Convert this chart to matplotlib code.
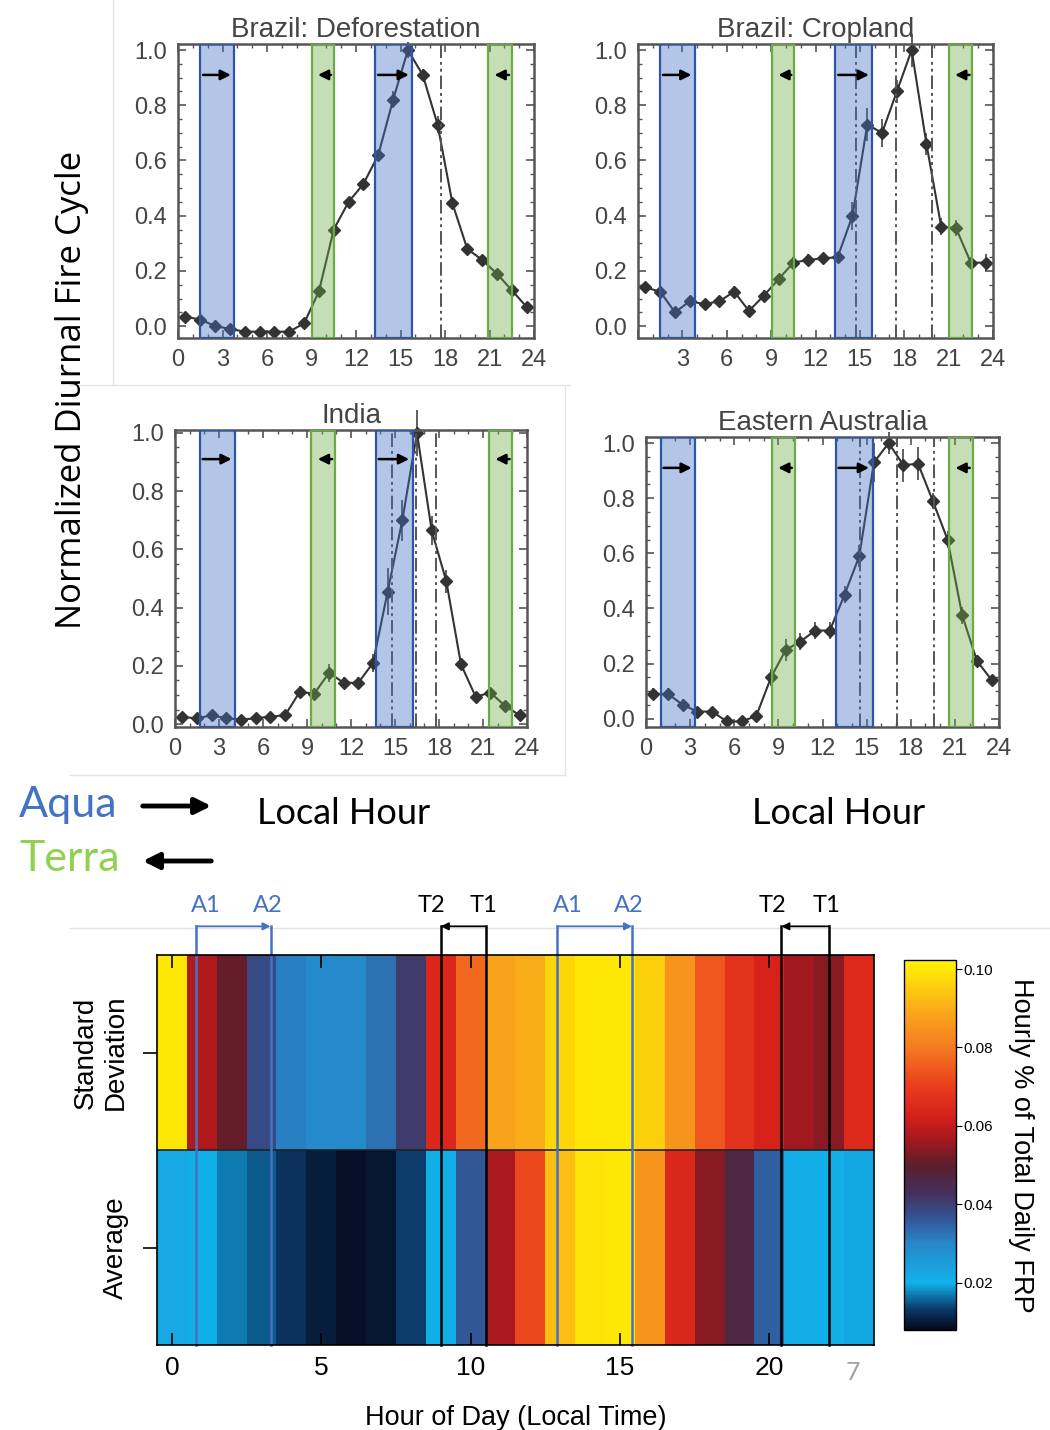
import numpy as np
import matplotlib.pyplot as plt
from matplotlib.colors import LinearSegmentedColormap, Normalize

W, H = 1050, 1430

def fx(px):
    return px / W

def fy(py):
    return 1 - py / H

# ---- diurnal cycle data (values at half hours) ----
hours = np.arange(0.5, 24, 1.0)

defor = [0.034, 0.024, 0.0, -0.01, -0.02, -0.02, -0.02, -0.02, 0.01, 0.126, 0.35, 0.45,
         0.515, 0.62, 0.82, 1.0, 0.91, 0.73, 0.445, 0.28, 0.24, 0.19, 0.13, 0.07]
defor_err = [0.01, 0.01, 0.01, 0.01, 0.01, 0.01, 0.01, 0.01, 0.01, 0.015, 0.015, 0.015,
             0.015, 0.015, 0.03, 0.03, 0.02, 0.03, 0.02, 0.015, 0.01, 0.01, 0.01, 0.01]
crop = [0.14, 0.125, 0.05, 0.09, 0.08, 0.09, 0.125, 0.055, 0.11, 0.17, 0.23, 0.24,
        0.245, 0.25, 0.40, 0.73, 0.70, 0.85, 1.0, 0.66, 0.36, 0.355, 0.23, 0.23]
crop_err = [0.02, 0.02, 0.02, 0.02, 0.02, 0.02, 0.02, 0.02, 0.02, 0.02, 0.02, 0.02,
            0.02, 0.02, 0.05, 0.06, 0.05, 0.04, 0.06, 0.04, 0.03, 0.03, 0.02, 0.03]
india = [0.024, 0.02, 0.03, 0.02, 0.015, 0.02, 0.026, 0.03, 0.11, 0.105, 0.176, 0.142,
         0.142, 0.21, 0.455, 0.70, 1.0, 0.665, 0.49, 0.205, 0.094, 0.108, 0.063, 0.03]
india_err = [0.01, 0.01, 0.01, 0.01, 0.01, 0.01, 0.01, 0.01, 0.02, 0.02, 0.03, 0.02,
             0.02, 0.03, 0.08, 0.07, 0.08, 0.05, 0.04, 0.02, 0.01, 0.01, 0.01, 0.01]
aus = [0.09, 0.09, 0.05, 0.026, 0.026, -0.01, -0.01, 0.01, 0.15, 0.25, 0.28, 0.32,
       0.32, 0.45, 0.59, 0.93, 1.0, 0.92, 0.925, 0.79, 0.65, 0.375, 0.21, 0.14]
aus_err = [0.02, 0.02, 0.02, 0.01, 0.01, 0.01, 0.01, 0.01, 0.03, 0.04, 0.03, 0.03,
           0.03, 0.03, 0.04, 0.07, 0.04, 0.06, 0.06, 0.03, 0.03, 0.03, 0.02, 0.02]

# overpass windows (hours) and marker lines
defor_aqua = [(1.5, 3.8), (13.3, 15.8)]
defor_terra = [(9.0, 10.5), (20.9, 22.5)]
crop_aqua = [(1.5, 3.85), (13.35, 15.85)]
crop_terra = [(9.05, 10.55), (21.0, 22.6)]
india_aqua = [(1.7, 4.1), (13.7, 16.2)]
india_terra = [(9.3, 10.9), (21.4, 23.0)]
aus_aqua = [(1.0, 3.35), (12.9, 15.4)]
aus_terra = [(8.55, 10.1), (20.6, 22.2)]

defor_vl = [15.8, 17.75]
crop_vl = [14.75, 17.45, 19.85]
india_vl = [14.8, 16.4, 17.8]
aus_vl = [14.55, 17.05, 19.55]

xtick_vals = [0, 3, 6, 9, 12, 15, 18, 21, 24]
ytick_vals = [0.0, 0.2, 0.4, 0.6, 0.8, 1.0]

# ---- heatmap data ----
sd_vals = [0.100, 0.058, 0.051, 0.038, 0.031, 0.029, 0.029, 0.033, 0.041, 0.064, 0.077, 0.088,
           0.090, 0.097, 0.100, 0.100, 0.096, 0.085, 0.074, 0.067, 0.063, 0.056, 0.054, 0.065]
avg_vals = [0.022, 0.020, 0.017, 0.015, 0.0125, 0.0105, 0.009, 0.0095, 0.0135, 0.020, 0.036, 0.057,
            0.072, 0.093, 0.099, 0.100, 0.085, 0.064, 0.054, 0.046, 0.035, 0.021, 0.020, 0.0195]
row_labels = ['Standard\nDeviation', 'Average']
aqua_lines = [0.8, 3.3, 12.9, 15.4]
terra_lines = [9.0, 10.5, 20.4, 22.0]
cb_ticks = [0.02, 0.04, 0.06, 0.08, 0.10]

plt.rcParams['font.family'] = ['Liberation Sans', 'DejaVu Sans']
fig = plt.figure(figsize=(10.5, 14.3), dpi=100)

BLUE_FC = (0x44 / 255, 0x72 / 255, 0xc4 / 255, 0.4)
GREEN_FC = (0x70 / 255, 0xad / 255, 0x47 / 255, 0.4)


def panel(rect, vals, errs, aqua, terra, vlines, title, ylim, show_zero=True):
    ax = fig.add_axes(rect)
    ax.errorbar(hours, vals, yerr=errs, fmt='-D', color='#333333', ms=6, lw=1.5,
                elinewidth=1.1, capsize=0, zorder=2, clip_on=False)
    for x in vlines:
        ax.axvline(x, color='#555555', lw=1.4, ls=(0, (7, 2, 1.5, 2, 1.5, 2)), zorder=2.5)
    for a, b in aqua:
        ax.axvspan(a, b, fc=BLUE_FC, ec='#2f55a5', lw=1.6, zorder=3)
        ax.annotate('', xy=(b - 0.05, 0.91), xytext=(a, 0.91),
                    arrowprops=dict(arrowstyle='-|>', color='black', lw=1.8, mutation_scale=15), zorder=4)
    for a, b in terra:
        ax.axvspan(a, b, fc=GREEN_FC, ec='#6aab45', lw=1.6, zorder=3)
        ax.annotate('', xy=(a + 0.25, 0.91), xytext=(b, 0.91),
                    arrowprops=dict(arrowstyle='-|>', color='black', lw=1.8, mutation_scale=15), zorder=4)
    ax.set_xlim(0, 24)
    ax.set_ylim(*ylim)
    ax.set_xticks(xtick_vals)
    labels = [str(v) for v in xtick_vals]
    if not show_zero:
        labels[0] = ''
    ax.set_xticklabels(labels)
    ax.set_yticks(ytick_vals)
    ax.set_yticklabels(['%.1f' % v for v in ytick_vals])
    ax.set_xticks(np.arange(0, 25, 1), minor=True)
    ax.set_yticks(np.arange(0, 1.01, 0.05), minor=True)
    ax.tick_params(which='both', direction='in', top=True, right=True, color='#555555')
    ax.tick_params(which='major', length=6, width=1.2, labelsize=17, labelcolor='#444444', pad=8)
    ax.tick_params(which='minor', length=3, width=1.0)
    for s in ax.spines.values():
        s.set_color('#555555')
        s.set_linewidth(1.8)
    ax.set_title(title, fontsize=20, color='#444444', pad=5)
    return ax


panel([fx(178), fy(338), 356 / W, 294 / H], defor, defor_err, defor_aqua, defor_terra,
      defor_vl, 'Brazil: Deforestation', (-0.043, 1.022))
panel([fx(638), fy(338), 355 / W, 294 / H], crop, crop_err, crop_aqua, crop_terra,
      crop_vl, 'Brazil: Cropland', (-0.043, 1.022), show_zero=False)
panel([fx(175), fy(727), 352 / W, 297 / H], india, india_err, india_aqua, india_terra,
      india_vl, 'India', (-0.01, 1.01))
panel([fx(646), fy(727), 353 / W, 290 / H], aus, aus_err, aus_aqua, aus_terra,
      aus_vl, 'Eastern Australia', (-0.03, 1.022))

# faint slide borders
for (x0, y0, x1, y1) in [(113, 0, 113, 385), (70, 385, 570, 385), (565, 385, 565, 775),
                         (70, 775, 565, 775), (70, 928, 1050, 928)]:
    fig.add_artist(plt.Line2D([fx(x0), fx(x1)], [fy(y0), fy(y1)], color='#e4e4e4', lw=1, zorder=0))

fig.text(fx(72), fy(390), 'Normalized Diurnal Fire Cycle', rotation=90, fontsize=25,
         family='Open Sans', ha='center', va='center')

# legend-like annotations
fig.text(fx(19), fy(805), 'Aqua', color='#4472c4', fontsize=31, family='Lato', ha='left', va='center')
fig.text(fx(19), fy(859), 'Terra', color='#92d050', fontsize=31, family='Lato', ha='left', va='center')
fig.add_artist(plt.Annotation('', xy=(fx(214), fy(806)), xytext=(fx(140), fy(806)),
                              xycoords='figure fraction', textcoords='figure fraction',
                              arrowprops=dict(arrowstyle='-|>', color='black', lw=3.5, mutation_scale=24)))
fig.add_artist(plt.Annotation('', xy=(fx(140), fy(861)), xytext=(fx(214), fy(861)),
                              xycoords='figure fraction', textcoords='figure fraction',
                              arrowprops=dict(arrowstyle='-|>', color='black', lw=3.5, mutation_scale=24)))
fig.text(fx(344), fy(814), 'Local Hour', fontsize=26, family='Lato', ha='center', va='center')
fig.text(fx(839), fy(814), 'Local Hour', fontsize=26, family='Lato', ha='center', va='center')

# ---- heatmap ----
stops = [(0.008, '#05091c'), (0.013, '#0b3866'), (0.02, '#12b2ec'), (0.03, '#2787c9'),
         (0.037, '#34508f'), (0.043, '#452f5a'), (0.05, '#5b1f2c'), (0.056, '#a0181e'),
         (0.062, '#d41f1c'), (0.07, '#ea3c1d'), (0.08, '#f47a20'), (0.09, '#fbac1a'),
         (0.1023, '#fff500')]
vmin, vmax = 0.008, 0.1023
cmap = LinearSegmentedColormap.from_list('frp', [((v - vmin) / (vmax - vmin), c) for v, c in stops])
norm = Normalize(vmin, vmax)

hax = fig.add_axes([fx(157), fy(1345), 717 / W, 390 / H])
im = hax.imshow(np.array([sd_vals, avg_vals]), aspect='auto', cmap=cmap, norm=norm,
                extent=(-0.5, 23.5, 1.5, -0.5), interpolation='nearest')
hax.axhline(0.5, color='#222222', lw=1.2)
hax.set_xticks([0, 5, 10, 15, 20])
hax.set_yticks([0, 1])
hax.set_yticklabels(row_labels, rotation=90, va='center', ha='right', multialignment='center', fontsize=20)
hax.tick_params(axis='x', direction='in', top=True, length=9, width=1.2, labelsize=19, pad=8)
hax.tick_params(axis='y', direction='out', length=10, width=1.2, pad=10)
for s in hax.spines.values():
    s.set_linewidth(1.2)
hax.set_xlabel('Hour of Day (Local Time)', fontsize=19.5, labelpad=18)

ytop = -0.647
ylab = -0.756
for x in aqua_lines:
    hax.plot([x, x], [1.5, ytop], color='#4472c4', lw=1.8, clip_on=False)
for x in terra_lines:
    hax.plot([x, x], [1.5, ytop], color='black', lw=1.8, clip_on=False)
for k in range(0, 4, 2):
    a1, a2 = aqua_lines[k], aqua_lines[k + 1]
    hax.annotate('', xy=(a2, ytop), xytext=(a1, ytop), annotation_clip=False,
                 arrowprops=dict(arrowstyle='-|>', color='#4472c4', lw=1.3, mutation_scale=11,
                                 shrinkA=0, shrinkB=0))
    hax.text(a1 + 0.35, ylab, 'A1', color='#4472c4', fontsize=17, family='Lato', ha='center', va='center')
    hax.text(a2 - 0.1, ylab, 'A2', color='#4472c4', fontsize=17, family='Lato', ha='center', va='center')
    t2, t1 = terra_lines[k], terra_lines[k + 1]
    hax.annotate('', xy=(t2, ytop), xytext=(t1, ytop), annotation_clip=False,
                 arrowprops=dict(arrowstyle='-|>', color='black', lw=1.3, mutation_scale=11,
                                 shrinkA=0, shrinkB=0))
    hax.text(t2 - 0.3, ylab, 'T2', color='black', fontsize=17, family='Lato', ha='center', va='center')
    hax.text(t1 - 0.08, ylab, 'T1', color='black', fontsize=17, family='Lato', ha='center', va='center')
hax.set_xlim(-0.5, 23.5)
hax.set_ylim(1.5, -0.5)

cax = fig.add_axes([fx(904), fy(1330), 52 / W, 370 / H])
cb = fig.colorbar(im, cax=cax, ticks=cb_ticks)
cb.ax.set_yticklabels(['%.2f' % t for t in cb_ticks])
cb.ax.tick_params(labelsize=11, length=4, pad=1)
cb.outline.set_linewidth(1.0)
cb.set_label('Hourly % of Total Daily FRP', rotation=270, fontsize=19.5, labelpad=30)

fig.text(fx(853), fy(1373), '7', color='#a0a0a0', fontsize=18, family='Lato', ha='center', va='center')

fig.savefig('out.png', dpi=100)
